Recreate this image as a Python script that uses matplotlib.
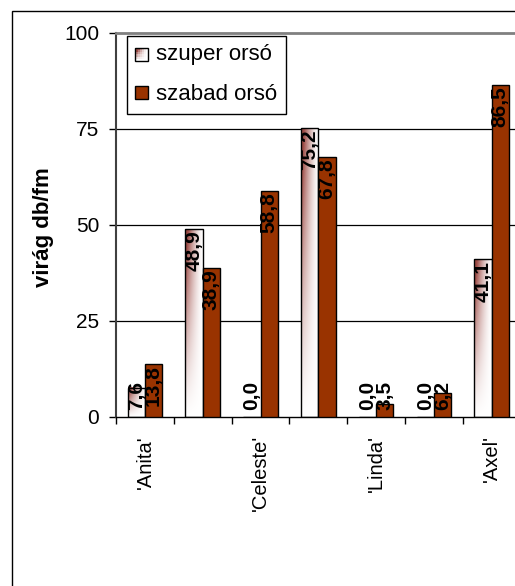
import numpy as np
import matplotlib
matplotlib.use("Agg")
from matplotlib import pyplot as plt
from matplotlib.patches import Rectangle
from matplotlib.legend_handler import HandlerBase
from matplotlib.colors import to_rgb

plt.rcParams['font.family'] = ['Liberation Sans', 'DejaVu Sans']

cats = ["'Anita'", "", "'Celeste'", "", "'Linda'", "", "'Axel'"]
szuper = [7.6, 48.9, 0.0, 75.2, 0.0, 0.0, 41.1]
szabad = [13.8, 38.9, 58.8, 67.8, 3.5, 6.2, 86.5]
series_names = ['szuper orsó', 'szabad orsó']

dark = np.array(to_rgb('#9c4a44'))
solid = '#993300'


def grad_img(n=80):
    # dark in the top-left corner, white towards bottom and right
    u = np.linspace(0, 1, n)[None, :]
    v = np.linspace(1, 0, n)[:, None]
    t = (1 - u) ** 1.5 * v ** 1.2
    t = np.clip(t * 1.3, 0, 1)
    img = 1 - t[..., None] * (1 - dark[None, None, :])
    return img


class GradHandler(HandlerBase):
    def create_artists(self, legend, orig_handle, x0, y0, width, height, fontsize, trans):
        arts = []
        n = 6
        img = grad_img(n)
        for i in range(n):
            for j in range(n):
                arts.append(Rectangle((x0 + j * width / n, y0 + height - (i + 1) * height / n),
                                      width / n, height / n, facecolor=img[i, j],
                                      edgecolor='none', transform=trans))
        arts.append(Rectangle((x0, y0), width, height, facecolor='none',
                              edgecolor='black', lw=1.0, transform=trans))
        return arts


fig = plt.figure(figsize=(5.15, 5.86), dpi=100)
W, H = 515, 586
ax = fig.add_axes([116 / W, 1 - 417 / H, 404.6 / W, 384 / H])

# outer chart border (runs off the right and bottom edge)
fig.add_artist(Rectangle((12 / W, -0.1), 1.2, 1 - 11 / H + 0.1, transform=fig.transFigure,
                         facecolor='none', edgecolor='black', lw=1.0))

x = np.arange(len(cats))
bw = 0.3

for yv in [25, 50, 75]:
    ax.axhline(yv, color='black', lw=0.9, zorder=1)

b1 = ax.bar(x - bw / 2, szuper, bw, facecolor='none', edgecolor='black', lw=1.0, zorder=3)
b2 = ax.bar(x + bw / 2, szabad, bw, facecolor=solid, edgecolor='black', lw=1.0, zorder=3)

img = grad_img()
for p in b1:
    h = p.get_height()
    if h > 0:
        ax.imshow(img, extent=(p.get_x(), p.get_x() + p.get_width(), 0, h),
                  aspect='auto', zorder=2, interpolation='bilinear')
ax.set_xlim(-0.5, len(cats) - 0.5)
ax.set_ylim(0, 100)

# data labels: inside end, or at the base if the bar is too short
fig.canvas.draw()
r = fig.canvas.get_renderer()
base = ax.transData.transform((0, 0))[1]
for bars, vals in [(b1, szuper), (b2, szabad)]:
    for p, v in zip(bars, vals):
        cx = p.get_x() + p.get_width() / 2
        lab = f'{v:.1f}'.replace('.', ',')
        t = ax.annotate(lab, (cx, v), xytext=(0, -1), textcoords='offset points',
                        rotation=90, ha='center', va='top', fontsize=15,
                        fontweight='bold', zorder=5)
        bb = t.get_window_extent(r)
        if bb.y0 < base + 8:
            t.xy = (cx, 0)
            t.xyann = (0, 5)
            t.set_va('bottom')

ax.set_yticks([0, 25, 50, 75, 100])
ax.tick_params(axis='y', direction='out', length=5, width=1, labelsize=15, pad=7)
ax.set_xticks(x)
ax.set_xticklabels(cats, rotation=90, fontsize=14.5)
ax.tick_params(axis='x', length=0, pad=13)
ax.set_xticks(np.arange(-0.5, len(cats)), minor=True)
ax.tick_params(axis='x', which='minor', direction='out', length=5, width=1)

ax.spines['left'].set_color('#404040')
ax.spines['left'].set_linewidth(1.5)
ax.spines['bottom'].set_color('black')
ax.spines['bottom'].set_linewidth(1.0)
for s in ['top', 'right']:
    ax.spines[s].set_color('#808080')
    ax.spines[s].set_linewidth(2.0)

fig.text(43 / W, 1 - 227 / H, 'virág db/fm', rotation=90, ha='center', va='center',
         fontsize=16, fontweight='bold')

h1 = Rectangle((0, 0), 1, 1)
h2 = Rectangle((0, 0), 1, 1, facecolor=solid, edgecolor='black', lw=1.0)
leg = fig.legend([h1, h2], series_names, loc='upper left',
                 bbox_to_anchor=(127 / W, 1 - 36 / H), fontsize=16,
                 handler_map={h1: GradHandler()}, fancybox=False, shadow=False,
                 frameon=True, edgecolor='black', framealpha=1,
                 handlelength=0.58, handleheight=0.58, handletextpad=0.35,
                 labelspacing=0.85, borderpad=0.38, borderaxespad=0)
leg.get_frame().set_linewidth(1.0)

fig.savefig('out.png', dpi=100)
